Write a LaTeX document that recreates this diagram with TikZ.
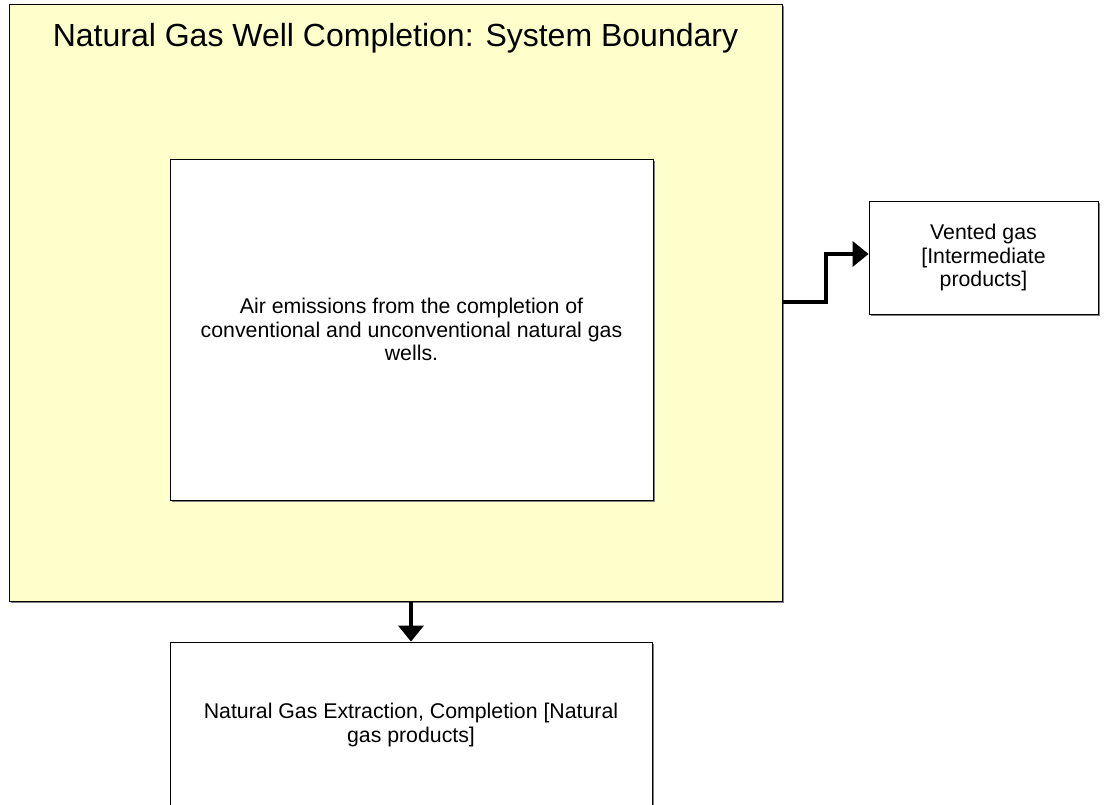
\documentclass[tikz,border=0pt]{standalone}
\usepackage{fontspec}
\setmainfont{Liberation Sans}
\usetikzlibrary{arrows.meta,shadows}
\definecolor{bndfill}{HTML}{FFFFCC}
\definecolor{shadowgray}{HTML}{808080}
\tikzset{
  box/.style={draw=black, line width=0.8pt, fill=white, rectangle, inner sep=0pt,
    align=center, font=\fontsize{21.3}{23.2}\selectfont,
    drop shadow={shadow xshift=1.8pt, shadow yshift=-1.8pt, fill=shadowgray, opacity=1}},
  boundary/.style={box, fill=bndfill},
  conn/.style={line width=3.5pt, -{Triangle[length=16pt,width=25pt]}},
  titletext/.style={font=\fontsize{32}{38}\selectfont, inner sep=0pt, anchor=base}
}
\begin{document}
\begin{tikzpicture}[x=1pt,y=-1pt]
\fill[white] (0,0) rectangle (1104,805);
\useasboundingbox (0,0) rectangle (1104,805);
\node[boundary, minimum width=773pt, minimum height=597pt] (outer) at (395.5,302.5) {};
\node[titletext] (title) at (395.5,47) {Natural Gas Well Completion: System Boundary};
\node[box, minimum width=483pt, minimum height=341pt] (inner) at (411.5,329.5)
  {Air emissions from the completion of\\conventional and unconventional natural gas\\wells.};
\node[box, minimum width=229pt, minimum height=113pt] (vented) at (983.5,257.5)
  {Vented gas\\{[}Intermediate\\products{]}};
\node[box, minimum width=482pt, minimum height=166pt] (extract) at (411,725)
  {Natural Gas Extraction, Completion {[}Natural\\gas products{]}};
\draw[conn] (outer.east |- 0,302) -- (826,302) -- (826,254) -- (vented.west |- 0,254);
\draw[conn] (extract.north |- outer.south) -- (extract.north);
\end{tikzpicture}
\end{document}
